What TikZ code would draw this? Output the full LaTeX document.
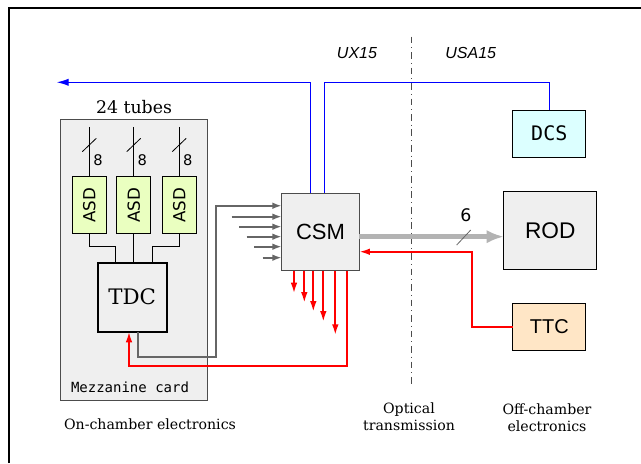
\documentclass[tikz,border=0pt]{standalone}
\usepackage{fontspec}
\setmainfont{DejaVu Serif}
\setsansfont{Liberation Sans}
\setmonofont{DejaVu Sans Mono}
\newfontfamily\dvsans{DejaVu Sans}
\usetikzlibrary{arrows.meta}
\definecolor{boxgray}{HTML}{EFEFEF}
\definecolor{asdgreen}{HTML}{EAFFC0}
\definecolor{dcscyan}{HTML}{DCFFFF}
\definecolor{ttcorange}{HTML}{FFE6C6}
\definecolor{wiregray}{HTML}{666666}
\definecolor{fibregray}{HTML}{B3B3B3}

\begin{document}
\begin{tikzpicture}[x=0.75pt,y=-0.75pt]
        \tikzset{box/.style = {draw=black!70,fill=boxgray,line width=0.75pt,inner sep=0pt,outer sep=0pt}}
        \tikzset{asd/.style = {box,draw=black,fill=asdgreen,minimum width=25.5pt,minimum height=42pt,font=\dvsans\fontsize{12.5}{14}\selectfont}}
        \tikzset{num/.style = {font=\dvsans\fontsize{11}{13}\selectfont}}
        \tikzset{caption/.style = {align=center,font=\fontsize{10.6}{12.5}\selectfont}}
        \tikzset{site/.style = {font=\sffamily\itshape\fontsize{12}{14}\selectfont}}
        \tikzset{wire/.style = {line width=0.6pt}}
        \tikzset{feed/.style = {-{Latex[length=7pt,width=5pt]},draw=wiregray,line width=1.4pt}}
        \tikzset{ttcline/.style = {-{Latex[length=8pt,width=5pt]},draw=red,line width=1.4pt}}
        \tikzset{dcsline/.style = {draw=blue,line width=0.9pt}}
        \tikzset{optical/.style = {-{Latex[length=13pt,width=10pt]},draw=fibregray,line width=3.6pt}}
        \useasboundingbox (0,0) rectangle (641,463);
        % frame
        \draw[line width=1.2pt] (9,463) |- (641,8);
        % mezzanine card
        \node[box] (card) at (133.5,260) [minimum width=110.25pt,minimum height=210pt] {};
        \node[font=\ttfamily\fontsize{10.5}{12}\selectfont] (cardtext) at (130,387) {Mezzanine card};
        \node[font=\fontsize{13}{15}\selectfont] (tubes) at (134,107) {24 tubes};
        \node[asd] (asd1) at (89.3,205)  {\rotatebox{90}{ASD}};
        \node[asd] (asd2) at (133.7,205) {\rotatebox{90}{ASD}};
        \node[asd] (asd3) at (179.2,205) {\rotatebox{90}{ASD}};
        \node[box,draw=black,line width=1.5pt,minimum size=51.75pt,font=\fontsize{16}{19}\selectfont] (tdc) at (132.2,297.2) {TDC};
        % tube bundles
        \coordinate (t1) at (89.3,127);
        \coordinate (t2) at (133.7,127);
        \coordinate (t3) at (179.2,127);
        \draw[wire] (t1) -- (asd1);
        \draw[wire] (t2) -- (asd2);
        \draw[wire] (t3) -- (asd3);
        \draw[wire] (t1) ++(-7,24.7) -- ++(14,-13.4);
        \draw[wire] (t2) ++(-7,24.7) -- ++(14,-13.4);
        \draw[wire] (t3) ++(-7,24.7) -- ++(14,-13.4);
        \node[num] (n1) at (98,160)  {8};
        \node[num] (n2) at (142.4,160) {8};
        \node[num] (n3) at (187.9,160) {8};
        % ASD to TDC
        \draw[wire] (asd1.south) -- ++(0,13.7) -| ([xshift=-12.4pt]tdc.north);
        \draw[wire] (asd2.south) -- (asd2.south |- tdc.north);
        \draw[wire] (asd3.south) -- ++(0,13.7) -| ([xshift=15.4pt]tdc.north);
        % back end
        \node[box,minimum width=58.2pt,minimum height=58pt,font=\sffamily\fontsize{16.5}{19}\selectfont] (csm) at (320.5,232) {CSM};
        \node[box,draw=black,minimum width=69.5pt,minimum height=58.2pt,font=\sffamily\fontsize{17}{20}\selectfont] (rod) at (550.3,230.5) {ROD};
        \node[box,draw=black,fill=dcscyan,minimum width=55pt,minimum height=35.5pt,font=\ttfamily\fontsize{15}{18}\selectfont] (dcs) at (549.3,133.7) {DCS};
        \node[box,draw=black,fill=ttcorange,minimum width=55pt,minimum height=35.5pt,font=\sffamily\fontsize{15}{18}\selectfont] (ttc) at (549.3,327) {TTC};
        % sites
        \node[site] (ux) at (357,52.7) {UX15};
        \node[site] (usa) at (470.7,52.7) {USA15};
        \draw[black!70,line width=0.7pt,dash pattern=on 5pt off 3pt on 0.6pt off 3pt] (411.7,36.7) -- (411.7,386.7);
        \node[caption] (oncham) at (150,424.3) {On-chamber electronics};
        \node[caption] (optic) at (409,417) {Optical\\transmission};
        \node[caption] (offcham) at (547,418) {Off-chamber\\electronics};
        % data into CSM
        \coordinate (in1) at (231.7,216.7);
        \coordinate (in2) at (239,226.7);
        \coordinate (in3) at (246.7,236.7);
        \coordinate (in4) at (254,246.7);
        \coordinate (in5) at (262.7,257.7);
        \draw[feed] ([xshift=4.1pt]tdc.south) |- (216,356.7) |- ([yshift=19.7pt]csm.west);
        \draw[feed] (in1) -- (in1 -| csm.west);
        \draw[feed] (in2) -- (in2 -| csm.west);
        \draw[feed] (in3) -- (in3 -| csm.west);
        \draw[feed] (in4) -- (in4 -| csm.west);
        \draw[feed] (in5) -- (in5 -| csm.west);
        % clock out of CSM
        \coordinate (o1) at (294,293.3);
        \coordinate (o2) at (304.3,302.7);
        \coordinate (o3) at (313.3,311.7);
        \coordinate (o4) at (323.3,321.7);
        \coordinate (o5) at (335.3,335);
        \coordinate (o6) at (346.7,366);
        \draw[ttcline] (o1 |- csm.south) -- (o1);
        \draw[ttcline] (o2 |- csm.south) -- (o2);
        \draw[ttcline] (o3 |- csm.south) -- (o3);
        \draw[ttcline] (o4 |- csm.south) -- (o4);
        \draw[ttcline] (o5 |- csm.south) -- (o5);
        \draw[ttcline] (o6 |- csm.south) -- (o6) -| ([xshift=-2.4pt]tdc.south);
        \coordinate (ttcin) at ([yshift=-14.8pt]csm.east);
        \draw[ttcline] (ttc.west) -| ([xshift=84.5pt]ttcin) -- (ttcin);
        % optical link
        \coordinate (opt) at ([yshift=-3.5pt]csm.east);
        \draw[optical] (opt) -- (opt -| rod.west);
        \draw[draw=wiregray,line width=0.6pt] (456.7,245) -- (470.7,230);
        \node[font=\dvsans\fontsize{13}{15}\selectfont] (six) at (466,215) {6};
        % DCS
        \coordinate (dcsout) at (56.7,82.3);
        \coordinate (cn2) at ([xshift=2.85pt]csm.north);
        \draw[dcsline,-{Latex[length=9pt,width=5.5pt]}] ([xshift=-7.35pt]csm.north) |- (dcsout);
        \draw[dcsline] (dcs.north) |- (cn2 |- dcsout) -- (cn2);
\end{tikzpicture}
\end{document}
